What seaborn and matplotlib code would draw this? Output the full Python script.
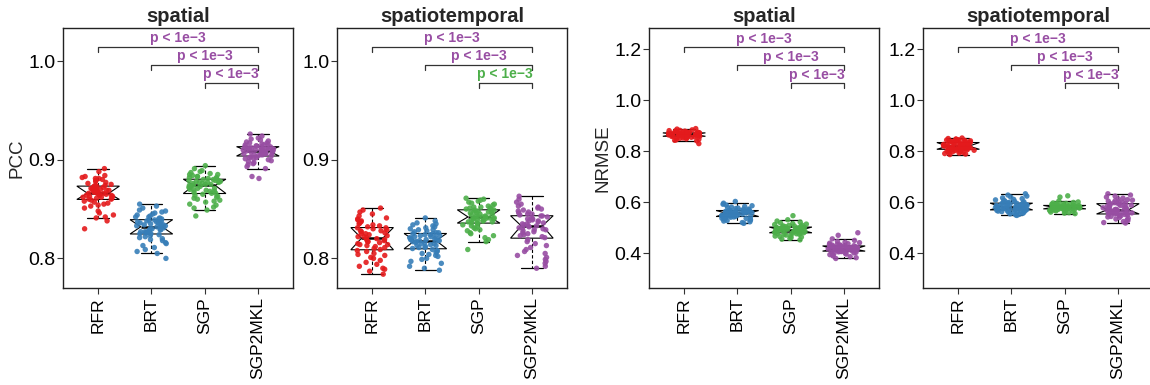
import numpy as np
import pandas as pd
import matplotlib
matplotlib.use("Agg")
import matplotlib.pyplot as plt
import seaborn as sns
from matplotlib import cbook

# ---------------- data ----------------
models = ["RFR", "BRT", "SGP", "SGP2MKL"]
panel_titles = ["spatial", "spatiotemporal", "spatial", "spatiotemporal"]
panel_metrics = ["PCC", "PCC", "NRMSE", "NRMSE"]
p_label = "p < 1e\u22123"
yticks_pcc = [0.8, 0.9, 1.0]
yticks_nrmse = [0.4, 0.6, 0.8, 1.0, 1.2]

# PCC, spatial
pcc_sp_rfr = [0.830, 0.838, 0.841, 0.842, 0.844, 0.846, 0.848, 0.851, 0.853, 0.854, 0.855, 0.856, 0.857, 0.858, 0.859,
              0.860, 0.860, 0.861, 0.861, 0.862, 0.862, 0.863, 0.863, 0.864, 0.864, 0.864, 0.865, 0.865, 0.866, 0.866,
              0.866, 0.867, 0.867, 0.868, 0.868, 0.869, 0.869, 0.870, 0.870, 0.871, 0.871, 0.872, 0.872, 0.873, 0.873,
              0.874, 0.874, 0.875, 0.876, 0.877, 0.878, 0.879, 0.880, 0.881, 0.881, 0.882, 0.883, 0.884, 0.888, 0.891]
pcc_sp_brt = [0.800, 0.805, 0.807, 0.809, 0.811, 0.813, 0.815, 0.816, 0.818, 0.819, 0.820, 0.821, 0.822, 0.823, 0.824,
              0.825, 0.825, 0.826, 0.826, 0.827, 0.827, 0.828, 0.828, 0.829, 0.829, 0.830, 0.830, 0.831, 0.831, 0.832,
              0.832, 0.833, 0.833, 0.834, 0.834, 0.835, 0.835, 0.836, 0.836, 0.837, 0.837, 0.838, 0.838, 0.839, 0.839,
              0.840, 0.840, 0.841, 0.842, 0.842, 0.843, 0.844, 0.845, 0.846, 0.847, 0.848, 0.849, 0.851, 0.853, 0.855]
pcc_sp_sgp = [0.843, 0.849, 0.851, 0.852, 0.854, 0.855, 0.857, 0.858, 0.859, 0.860, 0.861, 0.862, 0.863, 0.864, 0.865,
              0.866, 0.866, 0.867, 0.868, 0.868, 0.869, 0.869, 0.870, 0.871, 0.871, 0.872, 0.872, 0.873, 0.873, 0.874,
              0.874, 0.875, 0.875, 0.876, 0.876, 0.877, 0.877, 0.877, 0.878, 0.878, 0.879, 0.879, 0.879, 0.880, 0.880,
              0.881, 0.881, 0.882, 0.882, 0.883, 0.883, 0.884, 0.885, 0.885, 0.886, 0.887, 0.888, 0.889, 0.891, 0.894]
pcc_sp_mkl = [0.881, 0.883, 0.891, 0.893, 0.895, 0.896, 0.897, 0.898, 0.899, 0.900, 0.901, 0.901, 0.902, 0.902, 0.903,
              0.904, 0.904, 0.905, 0.905, 0.905, 0.906, 0.906, 0.907, 0.907, 0.907, 0.908, 0.908, 0.908, 0.909, 0.909,
              0.909, 0.909, 0.910, 0.910, 0.910, 0.911, 0.911, 0.911, 0.911, 0.912, 0.912, 0.912, 0.913, 0.913, 0.913,
              0.914, 0.914, 0.915, 0.915, 0.916, 0.916, 0.917, 0.917, 0.918, 0.919, 0.920, 0.921, 0.922, 0.924, 0.926]

# PCC, spatiotemporal
pcc_st_rfr = [0.784, 0.787, 0.789, 0.790, 0.792, 0.794, 0.796, 0.798, 0.800, 0.801, 0.803, 0.804, 0.805, 0.807, 0.808,
              0.809, 0.810, 0.811, 0.812, 0.813, 0.814, 0.814, 0.815, 0.816, 0.817, 0.817, 0.818, 0.819, 0.819, 0.820,
              0.821, 0.822, 0.822, 0.823, 0.824, 0.825, 0.825, 0.826, 0.827, 0.828, 0.828, 0.829, 0.830, 0.831, 0.831,
              0.832, 0.833, 0.834, 0.835, 0.836, 0.837, 0.838, 0.839, 0.840, 0.841, 0.843, 0.845, 0.847, 0.849, 0.851]
pcc_st_brt = [0.788, 0.790, 0.792, 0.795, 0.797, 0.799, 0.800, 0.802, 0.803, 0.804, 0.805, 0.806, 0.807, 0.808, 0.809,
              0.810, 0.811, 0.811, 0.812, 0.813, 0.813, 0.814, 0.815, 0.815, 0.816, 0.816, 0.817, 0.817, 0.818, 0.818,
              0.818, 0.819, 0.819, 0.820, 0.820, 0.821, 0.821, 0.822, 0.822, 0.823, 0.823, 0.824, 0.824, 0.825, 0.825,
              0.826, 0.826, 0.827, 0.828, 0.829, 0.829, 0.830, 0.831, 0.832, 0.833, 0.834, 0.835, 0.836, 0.838, 0.841]
pcc_st_sgp = [0.809, 0.817, 0.819, 0.821, 0.823, 0.825, 0.826, 0.828, 0.829, 0.830, 0.831, 0.832, 0.833, 0.834, 0.835,
              0.836, 0.836, 0.837, 0.837, 0.838, 0.838, 0.839, 0.839, 0.840, 0.840, 0.840, 0.841, 0.841, 0.841, 0.842,
              0.842, 0.842, 0.843, 0.843, 0.844, 0.845, 0.845, 0.846, 0.846, 0.847, 0.847, 0.848, 0.848, 0.849, 0.849,
              0.850, 0.850, 0.851, 0.851, 0.852, 0.852, 0.853, 0.854, 0.855, 0.856, 0.857, 0.858, 0.859, 0.860, 0.861]
pcc_st_mkl = [0.790, 0.792, 0.795, 0.797, 0.799, 0.801, 0.803, 0.805, 0.807, 0.809, 0.811, 0.813, 0.815, 0.817, 0.819,
              0.821, 0.822, 0.823, 0.824, 0.825, 0.826, 0.827, 0.828, 0.829, 0.829, 0.830, 0.831, 0.831, 0.832, 0.833,
              0.833, 0.834, 0.835, 0.835, 0.836, 0.837, 0.838, 0.838, 0.839, 0.840, 0.840, 0.841, 0.842, 0.843, 0.843,
              0.844, 0.845, 0.845, 0.846, 0.847, 0.848, 0.849, 0.850, 0.851, 0.852, 0.853, 0.855, 0.857, 0.860, 0.863]

# NRMSE, spatial
nrmse_sp_rfr = [0.830, 0.841, 0.843, 0.845, 0.847, 0.849, 0.851, 0.852, 0.853, 0.854, 0.855, 0.856, 0.857, 0.858, 0.858,
                0.859, 0.860, 0.860, 0.861, 0.861, 0.862, 0.862, 0.863, 0.863, 0.864, 0.864, 0.865, 0.865, 0.866, 0.866,
                0.866, 0.867, 0.867, 0.868, 0.868, 0.868, 0.869, 0.869, 0.870, 0.870, 0.870, 0.871, 0.871, 0.872, 0.872,
                0.873, 0.873, 0.874, 0.875, 0.876, 0.876, 0.877, 0.878, 0.879, 0.880, 0.881, 0.882, 0.884, 0.887, 0.889]
nrmse_sp_brt = [0.517, 0.520, 0.523, 0.526, 0.528, 0.530, 0.532, 0.534, 0.536, 0.537, 0.538, 0.539, 0.541, 0.542, 0.543,
                0.544, 0.545, 0.546, 0.547, 0.548, 0.549, 0.549, 0.550, 0.551, 0.552, 0.553, 0.553, 0.554, 0.555, 0.556,
                0.556, 0.557, 0.558, 0.559, 0.559, 0.560, 0.561, 0.562, 0.562, 0.563, 0.564, 0.565, 0.565, 0.566, 0.567,
                0.568, 0.569, 0.570, 0.572, 0.573, 0.575, 0.577, 0.579, 0.581, 0.583, 0.586, 0.589, 0.592, 0.596, 0.603]
nrmse_sp_sgp = [0.452, 0.455, 0.458, 0.461, 0.463, 0.465, 0.467, 0.469, 0.471, 0.473, 0.474, 0.476, 0.477, 0.478, 0.479,
                0.480, 0.481, 0.482, 0.483, 0.484, 0.485, 0.485, 0.486, 0.487, 0.488, 0.488, 0.489, 0.490, 0.490, 0.491,
                0.491, 0.492, 0.493, 0.494, 0.494, 0.495, 0.496, 0.497, 0.497, 0.498, 0.499, 0.500, 0.500, 0.501, 0.502,
                0.503, 0.504, 0.505, 0.506, 0.507, 0.509, 0.510, 0.512, 0.514, 0.516, 0.519, 0.522, 0.526, 0.531, 0.547]
nrmse_sp_mkl = [0.379, 0.382, 0.386, 0.389, 0.392, 0.394, 0.396, 0.398, 0.400, 0.401, 0.403, 0.404, 0.405, 0.406, 0.407,
                0.408, 0.409, 0.409, 0.410, 0.411, 0.411, 0.412, 0.412, 0.413, 0.413, 0.414, 0.414, 0.415, 0.415, 0.416,
                0.416, 0.417, 0.418, 0.419, 0.420, 0.420, 0.421, 0.422, 0.423, 0.424, 0.424, 0.425, 0.426, 0.427, 0.428,
                0.429, 0.430, 0.431, 0.432, 0.434, 0.435, 0.437, 0.439, 0.441, 0.443, 0.446, 0.450, 0.456, 0.470, 0.480]

# NRMSE, spatiotemporal
nrmse_st_rfr = [0.787, 0.789, 0.791, 0.793, 0.795, 0.796, 0.798, 0.799, 0.800, 0.801, 0.803, 0.804, 0.805, 0.806, 0.807,
                0.808, 0.809, 0.810, 0.811, 0.812, 0.812, 0.813, 0.814, 0.815, 0.816, 0.816, 0.817, 0.818, 0.819, 0.820,
                0.820, 0.821, 0.822, 0.823, 0.824, 0.825, 0.826, 0.827, 0.828, 0.829, 0.830, 0.831, 0.832, 0.833, 0.834,
                0.835, 0.836, 0.837, 0.838, 0.839, 0.840, 0.841, 0.842, 0.843, 0.844, 0.845, 0.847, 0.848, 0.850, 0.852]
nrmse_st_brt = [0.548, 0.550, 0.552, 0.554, 0.556, 0.558, 0.559, 0.561, 0.562, 0.563, 0.565, 0.566, 0.567, 0.568, 0.569,
                0.570, 0.571, 0.572, 0.573, 0.574, 0.575, 0.575, 0.576, 0.577, 0.578, 0.579, 0.579, 0.580, 0.581, 0.582,
                0.582, 0.583, 0.584, 0.585, 0.586, 0.587, 0.588, 0.589, 0.590, 0.591, 0.592, 0.593, 0.594, 0.595, 0.596,
                0.597, 0.598, 0.599, 0.601, 0.603, 0.605, 0.607, 0.609, 0.611, 0.614, 0.617, 0.620, 0.624, 0.628, 0.633]
nrmse_st_sgp = [0.555, 0.557, 0.559, 0.561, 0.563, 0.564, 0.566, 0.567, 0.568, 0.569, 0.570, 0.571, 0.572, 0.573, 0.573,
                0.574, 0.574, 0.575, 0.575, 0.576, 0.576, 0.577, 0.577, 0.578, 0.578, 0.578, 0.579, 0.579, 0.580, 0.580,
                0.580, 0.581, 0.581, 0.582, 0.582, 0.583, 0.583, 0.584, 0.584, 0.585, 0.585, 0.586, 0.586, 0.587, 0.587,
                0.588, 0.588, 0.589, 0.590, 0.591, 0.592, 0.593, 0.594, 0.595, 0.597, 0.599, 0.601, 0.605, 0.620, 0.625]
nrmse_st_mkl = [0.518, 0.520, 0.524, 0.528, 0.531, 0.534, 0.537, 0.540, 0.542, 0.544, 0.546, 0.548, 0.550, 0.552, 0.553,
                0.554, 0.555, 0.556, 0.557, 0.558, 0.559, 0.560, 0.561, 0.562, 0.563, 0.564, 0.566, 0.567, 0.568, 0.570,
                0.570, 0.572, 0.573, 0.575, 0.576, 0.578, 0.580, 0.581, 0.583, 0.585, 0.587, 0.588, 0.590, 0.592, 0.594,
                0.595, 0.597, 0.598, 0.600, 0.602, 0.604, 0.606, 0.608, 0.610, 0.613, 0.616, 0.620, 0.624, 0.628, 0.633]

panel_data = [
    [pcc_sp_rfr, pcc_sp_brt, pcc_sp_sgp, pcc_sp_mkl],
    [pcc_st_rfr, pcc_st_brt, pcc_st_sgp, pcc_st_mkl],
    [nrmse_sp_rfr, nrmse_sp_brt, nrmse_sp_sgp, nrmse_sp_mkl],
    [nrmse_st_rfr, nrmse_st_brt, nrmse_st_sgp, nrmse_st_mkl],
]

# significance brackets: (group a, group b)
comparisons = [("RFR", "SGP2MKL"), ("BRT", "SGP2MKL"), ("SGP", "SGP2MKL")]
bracket_y_pcc = [1.0142, 0.9960, 0.9778]
bracket_y_nrmse = [1.2079, 1.1380, 1.0670]

# ---------------- style ----------------
colors = ["#E41A1C", "#377EB8", "#4DAF4A", "#984EA3"]
purple, green = "#984EA3", "#4DAF4A"
p_colors = [[purple, purple, purple], [purple, purple, green],
            [purple, purple, purple], [purple, purple, purple]]

sns.set_theme(style="white")
plt.rcParams["font.family"] = ["Liberation Sans", "DejaVu Sans"]
np.random.seed(7)

W, H = 1150, 385
fig = plt.figure(figsize=(W / 100, H / 100), dpi=100)
lefts = [63, 337, 649, 923]
ax_w, ax_top, ax_bot = 230, 28, 287.5

for i in range(4):
    ax = fig.add_axes([lefts[i] / W, (H - ax_bot) / H, ax_w / W, (ax_bot - ax_top) / H])
    groups = panel_data[i]
    df = pd.DataFrame({
        "model": np.repeat(models, [len(g) for g in groups]),
        "value": np.concatenate([np.asarray(g, dtype=float) for g in groups]),
    })

    # notched boxes (notch reaching the hinges, as in the reference)
    stats = []
    for m in models:
        st = cbook.boxplot_stats(df.loc[df["model"] == m, "value"].to_numpy())[0]
        st["cilo"], st["cihi"] = st["q1"], st["q3"]
        stats.append(st)
    ax.bxp(stats, positions=range(4), widths=0.8, shownotches=True, showfliers=False,
           patch_artist=True, manage_ticks=False,
           boxprops=dict(facecolor="white", edgecolor="black", linewidth=0.8),
           whiskerprops=dict(color="black", linewidth=0.8, linestyle=(0, (3, 2))),
           capprops=dict(color="black", linewidth=0.9),
           medianprops=dict(color="black", linewidth=1.8))

    sns.stripplot(data=df, x="model", y="value", hue="model", order=models,
                  hue_order=models, palette=colors, jitter=0.3, size=3.9,
                  alpha=0.9, linewidth=0, legend=False, ax=ax, zorder=3)

    metric = panel_metrics[i]
    if metric == "PCC":
        ax.set_ylim(0.7705, 1.0335)
        ax.set_yticks(yticks_pcc)
        bys, drop = bracket_y_pcc, 0.0054
    else:
        ax.set_ylim(0.265, 1.284)
        ax.set_yticks(yticks_nrmse)
        bys, drop = bracket_y_nrmse, 0.0197
    ax.set_yticklabels([f"{v:.1f}" for v in ax.get_yticks()])
    ax.set_xlim(-0.66, 3.66)
    ax.set_xticks(range(4))
    ax.set_xticklabels(models, rotation=90, va="top", ha="center")

    for (a, b), yb, col in zip(comparisons, bys, p_colors[i]):
        xa, xb = models.index(a), models.index(b)
        ax.plot([xa, xa, xb, xb], [yb - drop, yb, yb, yb - drop],
                color="#333333", linewidth=0.9, zorder=4, clip_on=False)
        ax.annotate(p_label, xy=((xa + xb) / 2, yb), xytext=(0, 1.2),
                    textcoords="offset points", ha="center", va="bottom",
                    fontsize=10, fontweight="bold", color=col, zorder=5)

    ax.set_title(panel_titles[i], fontsize=14.5, fontweight="bold", pad=4)
    ax.set_xlabel("")
    if i in (0, 2):
        ax.set_ylabel(metric, fontsize=13.5)
        ax.yaxis.set_label_coords(-0.165, 0.5)
    else:
        ax.set_ylabel("")

    ax.tick_params(axis="both", which="both", direction="out", length=4, width=0.8,
                   color="#333333", labelcolor="black")
    ax.tick_params(axis="y", pad=1.5, labelsize=14)
    ax.tick_params(axis="x", pad=3, labelsize=12.6)
    ax.tick_params(left=True, bottom=True)
    for sp in ax.spines.values():
        sp.set_visible(True)
        sp.set_color("#222222")
        sp.set_linewidth(1.0)
    ax.grid(False)
    ax.set_facecolor("white")

fig.savefig("out.png", dpi=100, facecolor="white")
